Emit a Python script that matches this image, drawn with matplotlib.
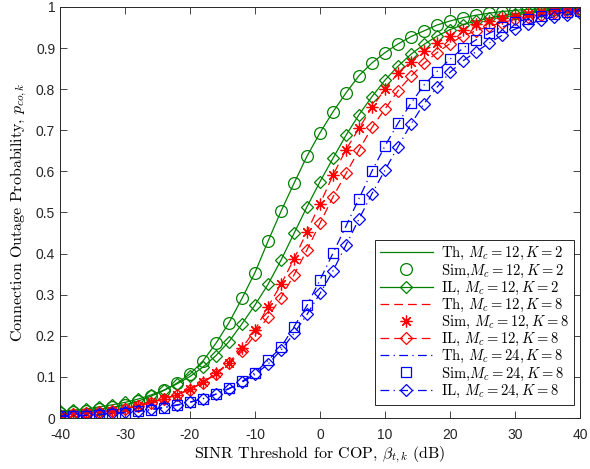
import matplotlib
matplotlib.use("Agg")
import matplotlib.pyplot as plt
import numpy as np

plt.rcParams['mathtext.fontset'] = 'cm'
plt.rcParams['font.family'] = ['Liberation Sans', 'DejaVu Sans']

beta_db = list(range(-40, 41, 2))

th_m12_k2 = [0.012, 0.014, 0.017, 0.021, 0.026, 0.032, 0.041, 0.053, 0.067, 0.085,
             0.107, 0.139, 0.182, 0.232, 0.291, 0.354, 0.430, 0.503, 0.571, 0.637,
             0.694, 0.745, 0.791, 0.833, 0.864, 0.889, 0.910, 0.928, 0.942, 0.956,
             0.966, 0.974, 0.980, 0.985, 0.989, 0.992, 0.994, 0.995, 0.996, 0.997, 0.998]
sim_m12_k2 = th_m12_k2
il_m12_k2 = [0.017, 0.019, 0.022, 0.027, 0.032, 0.038, 0.046, 0.056, 0.068, 0.083,
             0.101, 0.124, 0.152, 0.186, 0.229, 0.275, 0.325, 0.384, 0.449, 0.514,
             0.575, 0.632, 0.688, 0.738, 0.782, 0.822, 0.856, 0.885, 0.909, 0.929,
             0.945, 0.957, 0.966, 0.973, 0.979, 0.984, 0.987, 0.990, 0.992, 0.994, 0.995]

th_m12_k8 = [0.008, 0.010, 0.012, 0.015, 0.018, 0.023, 0.030, 0.039, 0.047, 0.057,
             0.071, 0.087, 0.109, 0.135, 0.170, 0.214, 0.271, 0.325, 0.387, 0.453,
             0.521, 0.591, 0.653, 0.705, 0.756, 0.800, 0.839, 0.867, 0.893, 0.913,
             0.930, 0.945, 0.958, 0.967, 0.973, 0.978, 0.984, 0.988, 0.990, 0.992, 0.994]
sim_m12_k8 = th_m12_k8
il_m12_k8 = [0.008, 0.010, 0.012, 0.015, 0.018, 0.023, 0.029, 0.037, 0.046, 0.056,
             0.069, 0.086, 0.107, 0.133, 0.162, 0.202, 0.246, 0.293, 0.348, 0.409,
             0.474, 0.538, 0.595, 0.652, 0.707, 0.752, 0.796, 0.832, 0.863, 0.889,
             0.911, 0.930, 0.942, 0.953, 0.962, 0.970, 0.976, 0.981, 0.985, 0.988, 0.990]

th_m24_k8 = [0.004, 0.005, 0.006, 0.008, 0.010, 0.013, 0.016, 0.020, 0.025, 0.031,
             0.038, 0.047, 0.058, 0.072, 0.089, 0.110, 0.140, 0.172, 0.222, 0.274,
             0.336, 0.401, 0.467, 0.534, 0.601, 0.662, 0.717, 0.766, 0.810, 0.843,
             0.873, 0.900, 0.920, 0.936, 0.951, 0.963, 0.971, 0.978, 0.984, 0.988, 0.991]
sim_m24_k8 = th_m24_k8
il_m24_k8 = [0.005, 0.006, 0.007, 0.009, 0.011, 0.014, 0.017, 0.021, 0.026, 0.032,
             0.039, 0.047, 0.058, 0.071, 0.087, 0.106, 0.131, 0.165, 0.206, 0.252,
             0.303, 0.358, 0.421, 0.484, 0.546, 0.603, 0.660, 0.715, 0.765, 0.805,
             0.841, 0.869, 0.891, 0.912, 0.931, 0.946, 0.958, 0.968, 0.976, 0.981, 0.985]

x_ticks = [-40, -30, -20, -10, 0, 10, 20, 30, 40]
y_ticks = [0, 0.1, 0.2, 0.3, 0.4, 0.5, 0.6, 0.7, 0.8, 0.9, 1]
y_tick_labels = ['0', '0.1', '0.2', '0.3', '0.4', '0.5', '0.6', '0.7', '0.8', '0.9', '1']

green = (0.0, 0.5, 0.0)
lw = 0.9
ms_c = 8.5
ms_d = 6.5
ms_s = 7
dash = (7, 4)
dashdot = (7, 3.5, 1, 3.5)

fig = plt.figure(figsize=(5.90, 4.69), dpi=100)
ax = fig.add_axes([60/590, 1-418/469, 520/590, 411/469])

ax.plot(beta_db, th_m12_k2, '-', color=green, lw=lw, label=r'Th, $M_c = 12, K = 2$')
ax.plot(beta_db, sim_m12_k2, 'o', color=green, mfc='none', ms=ms_c, mew=lw, ls='none',
        label=r'Sim,$M_c = 12, K = 2$')
ax.plot(beta_db, il_m12_k2, '-', color=green, lw=lw, marker='D', mfc='none', ms=ms_d, mew=lw,
        label=r'IL, $M_c = 12, K = 2$')
ax.plot(beta_db, th_m12_k8, color='red', lw=lw, dashes=dash, label=r'Th, $M_c = 12, K = 8$')
ax.plot(beta_db, sim_m12_k8, ls='none', marker=(8, 2, 0), color='red', ms=ms_c, mew=lw,
        label=r'Sim, $M_c = 12, K = 8$')
ax.plot(beta_db, il_m12_k8, color='red', lw=lw, dashes=dash, marker='D', mfc='none', ms=ms_d, mew=lw,
        label=r'IL, $M_c = 12, K = 8$')
ax.plot(beta_db, th_m24_k8, color='blue', lw=lw, dashes=dashdot, label=r'Th, $M_c = 24, K = 8$')
ax.plot(beta_db, sim_m24_k8, ls='none', marker='s', color='blue', mfc='none', ms=ms_s, mew=lw,
        label=r'Sim,$M_c = 24, K = 8$')
ax.plot(beta_db, il_m24_k8, color='blue', lw=lw, dashes=dashdot, marker='D', mfc='none', ms=ms_d, mew=lw,
        label=r'IL, $M_c = 24, K = 8$')

ax.set_xlim(-40, 40)
ax.set_ylim(0, 1)
ax.set_xticks(x_ticks)
ax.set_xticklabels([str(t) for t in x_ticks])
ax.set_yticks(y_ticks)
ax.set_yticklabels(y_tick_labels)
ax.tick_params(direction='in', top=True, right=True, length=5, width=0.6,
               color='#262626', labelcolor='#262626', labelsize=10)
ax.tick_params(axis='x', pad=7.5)
for s in ax.spines.values():
    s.set_color('#262626')
    s.set_linewidth(0.7)

ax.set_xlabel(r'SINR Threshold for COP, $\beta_{t,k}$ (dB)', family='cmr10', fontsize=11.5, labelpad=2)
ax.set_ylabel(r'Connection Outage Probability, $p_{co,k}$', family='cmr10', fontsize=11.5, labelpad=5)

leg = ax.legend(loc='lower left', bbox_to_anchor=(0.606, 0.032), prop={'family': 'cmr10', 'size': 10.5},
                fancybox=False, framealpha=1, edgecolor='#262626', handlelength=3.6,
                labelspacing=0.0, borderpad=0.35, handletextpad=0.6, borderaxespad=0)
leg.get_frame().set_linewidth(0.7)

fig.savefig('out.png', dpi=100)
